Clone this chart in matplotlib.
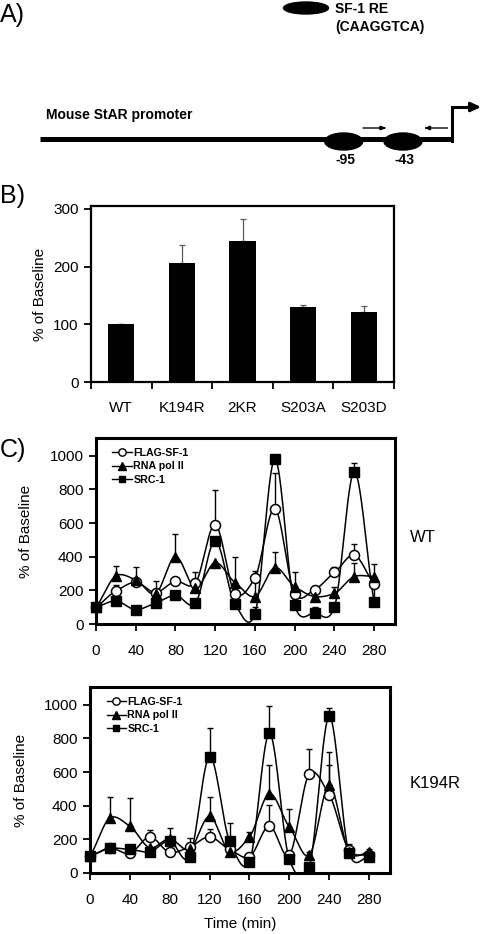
import numpy as np
import matplotlib
matplotlib.use("Agg")
import matplotlib.pyplot as plt
from matplotlib.patches import Ellipse
from matplotlib.lines import Line2D

plt.rcParams['font.family'] = ['Liberation Sans', 'DejaVu Sans']

# ---- data ----
# panel B: ChIP of SF-1 mutants
mutantes = ["WT", "K194R", "2KR", "S203A", "S203D"]
baseline_pct = [100, 207, 244, 130, 121]
baseline_err = [0, 30, 38, 4, 11]

# panel C: time course (min)
tiempo = np.arange(0, 281, 20)

wt_flag = [100, 196, 248, 187, 254, 242, 591, 181, 276, 685, 179, 204, 306, 409, 238]
wt_flag_err = [0, 34, 0, 71, 0, 69, 207, 0, 39, 210, 0, 0, 35, 67, 0]
wt_pol = [100, 286, 262, 180, 401, 214, 365, 246, 163, 335, 222, 163, 182, 282, 282]
wt_pol_err = [0, 59, 75, 0, 135, 0, 0, 155, 100, 90, 89, 0, 40, 79, 75]
wt_src = [100, 137, 85, 125, 171, 123, 494, 117, 60, 980, 110, 66, 100, 903, 133]
wt_src_err = [0, 0, 0, 0, 0, 0, 0, 0, 40, 0, 0, 34, 0, 53, 100]

k_flag = [100, 148, 116, 215, 122, 155, 215, 140, 96, 280, 106, 590, 465, 136, 106]
k_flag_err = [0, 0, 0, 43, 0, 54, 49, 0, 0, 122, 0, 144, 174, 36, 0]
k_pol = [100, 327, 278, 150, 203, 140, 337, 126, 215, 471, 274, 106, 521, 126, 122]
k_pol_err = [0, 124, 168, 0, 65, 0, 114, 0, 29, 168, 108, 20, 197, 0, 18]
k_src = [100, 146, 140, 126, 191, 96, 692, 191, 67, 830, 81, 37, 931, 116, 96]
k_src_err = [0, 0, 0, 0, 0, 0, 170, 107, 0, 164, 0, 0, 49, 0, 0]

series_names = ["FLAG-SF-1", "RNA pol II", "SRC-1"]

# panel A: promoter schematic (bp relative to TSS)
sitios_bp = [-95, -43]
primers_bp = [(-78, -57), (-4, -25)]

W, H = 482, 934
fig = plt.figure(figsize=(W / 100, H / 100), dpi=100)


def caja(x0, y0, x1, y1):
    # pixel box -> figure fraction
    return [x0 / W, 1 - y1 / H, (x1 - x0) / W, (y1 - y0) / H]


def suavizar(x, y, xs, c=0.8):
    # cardinal (Hermite) spline through the points, for the smoothed lines
    x = np.asarray(x, float)
    y = np.asarray(y, float)
    m = np.gradient(y, x) * c
    idx = np.clip(np.searchsorted(x, xs) - 1, 0, len(x) - 2)
    h = x[idx + 1] - x[idx]
    s = (xs - x[idx]) / h
    h00 = 2 * s**3 - 3 * s**2 + 1
    h10 = s**3 - 2 * s**2 + s
    h01 = -2 * s**3 + 3 * s**2
    h11 = s**3 - s**2
    return h00 * y[idx] + h10 * h * m[idx] + h01 * y[idx + 1] + h11 * h * m[idx + 1]


# ---------------- A) promoter ----------------
ax_a = fig.add_axes(caja(0, 0, W, 180))
ax_a.set_xlim(0, W)
ax_a.set_ylim(180, 0)
ax_a.axis("off")

tss_px, px_bp = 452, 1.14
bp2px = lambda bp: tss_px + bp * px_bp
linea_y = 139

ax_a.plot([40, tss_px], [linea_y, linea_y], color="k", lw=3.6, solid_capstyle="butt")
ax_a.plot([tss_px, tss_px, 471], [linea_y + 1.5, 107, 107], color="k", lw=2.2,
          solid_joinstyle="miter")
ax_a.annotate("", xy=(481, 107), xytext=(468, 107),
              arrowprops=dict(arrowstyle="-|>,head_length=0.6,head_width=0.28",
                              color="k", lw=2, shrinkA=0, shrinkB=0))
for s in sitios_bp:
    ax_a.add_patch(Ellipse((bp2px(s), 141.5), 38, 17, color="k"))
    ax_a.text(bp2px(s) + 2, 160, str(s), ha="center", va="center",
              fontsize=10, fontweight="bold")
for a, b in primers_bp:
    ax_a.annotate("", xy=(bp2px(b), 128), xytext=(bp2px(a), 128),
                  arrowprops=dict(arrowstyle="-|>,head_length=0.35,head_width=0.12",
                                  color="k", lw=1, shrinkA=0, shrinkB=0))
ax_a.text(46, 115, "Mouse StAR promoter", ha="left", va="center",
          fontsize=10, fontweight="bold")
ax_a.add_patch(Ellipse((306, 8), 45, 12, color="k"))
ax_a.text(335, 9, "SF-1 RE", ha="left", va="center", fontsize=10, fontweight="bold")
ax_a.text(335, 26.5, "(CAAGGTCA)", ha="left", va="center", fontsize=10, fontweight="bold")

fig.text(0, 1 - 15 / H, "A)", ha="left", va="center", fontsize=18)
fig.text(0, 1 - 196 / H, "B)", ha="left", va="center", fontsize=18)
fig.text(0, 1 - 450 / H, "C)", ha="left", va="center", fontsize=18)

# ---------------- B) bars ----------------
ax_b = fig.add_axes(caja(91, 206, 394, 382))
pos = np.arange(len(mutantes))
ax_b.bar(pos, baseline_pct, width=0.43, color="k", zorder=2)
ax_b.errorbar(pos, baseline_pct, yerr=[np.zeros(len(pos)), baseline_err], fmt="none",
              ecolor="0.35", elinewidth=0.9, capsize=2.5, capthick=0.9, zorder=1)
ax_b.set_xlim(-0.5, len(mutantes) - 0.5)
ax_b.set_ylim(0, 305)
ax_b.set_yticks([0, 100, 200, 300])
ax_b.set_xticks(np.arange(-0.5, len(mutantes), 1))
ax_b.set_xticklabels([])
ax_b.set_xticks(pos, minor=True)
ax_b.set_xticklabels(mutantes, minor=True)
ax_b.tick_params(axis="x", which="minor", length=0, pad=13.5, labelsize=11)
ax_b.tick_params(axis="x", which="major", length=5, width=1.3)
ax_b.tick_params(axis="y", length=5, width=1.3, pad=4, labelsize=11)
for sp in ax_b.spines.values():
    sp.set_linewidth(1.6)
ax_b.set_ylabel("% of Baseline", fontsize=11)
ax_b.yaxis.set_label_coords(-0.145, 0.5)


# ---------------- C) time courses ----------------
def curso(ax, flag, flag_err, pol, pol_err, src, src_err):
    xs = np.linspace(0, 280, 600)
    estilos = [
        (flag, flag_err, dict(marker="o", mfc="white", mec="k", ms=7.2, mew=1.1)),
        (pol, pol_err, dict(marker="^", mfc="k", mec="k", ms=7.2)),
        (src, src_err, dict(marker="s", mfc="k", mec="k", ms=6.6)),
    ]
    for vals, err, st in estilos:
        vals = np.asarray(vals, float)
        err = np.asarray(err, float)
        ax.plot(xs, suavizar(tiempo, vals, xs), color="k", lw=1.1, zorder=2)
        m = err > 0
        ax.errorbar(tiempo[m], vals[m], yerr=[np.zeros(m.sum()), err[m]], fmt="none",
                    ecolor="k", elinewidth=1, capsize=2.2, capthick=1, zorder=1.5)
        ax.plot(tiempo, vals, ls="none", zorder=3, clip_on=False, **st)
    ax.set_xlim(0, 301)
    ax.set_ylim(0, 1105)
    ax.set_xticks(np.arange(0, 281, 40))
    ax.set_yticks(np.arange(0, 1001, 200))
    ax.tick_params(axis="x", length=5, width=1.3, pad=9.5, labelsize=11)
    ax.tick_params(axis="y", length=5, width=1.3, pad=4, labelsize=11)
    for sp in ax.spines.values():
        sp.set_linewidth(2.2)
    ax.set_ylabel("% of Baseline", fontsize=11)
    handles = [
        Line2D([], [], color="k", lw=1, marker="o", mfc="white", mec="k", ms=5.3),
        Line2D([], [], color="k", lw=1, marker="^", mfc="k", mec="k", ms=5.3),
        Line2D([], [], color="k", lw=1, marker="s", mfc="k", mec="k", ms=5.0),
    ]
    ax.legend(handles, series_names, loc="upper left", bbox_to_anchor=(0.055, 0.945),
              frameon=False, prop={"weight": "bold", "size": 7.7}, handlelength=1.8,
              handletextpad=0.15, labelspacing=0.3, borderpad=0, borderaxespad=0)


ax_wt = fig.add_axes(caja(96, 438, 395, 624))
curso(ax_wt, wt_flag, wt_flag_err, wt_pol, wt_pol_err, wt_src, wt_src_err)
ax_wt.yaxis.set_label_coords(-0.21, 0.5)

ax_k = fig.add_axes(caja(90, 687, 390, 873))
curso(ax_k, k_flag, k_flag_err, k_pol, k_pol_err, k_src, k_src_err)
ax_k.yaxis.set_label_coords(-0.207, 0.5)
ax_k.set_xlabel("Time (min)", fontsize=11)
ax_k.xaxis.set_label_coords(0.5, -0.237)

fig.text(410 / W, 1 - 537 / H, "WT", ha="left", va="center", fontsize=12)
fig.text(410 / W, 1 - 783 / H, "K194R", ha="left", va="center", fontsize=12)

fig.savefig("out.png", dpi=100)
